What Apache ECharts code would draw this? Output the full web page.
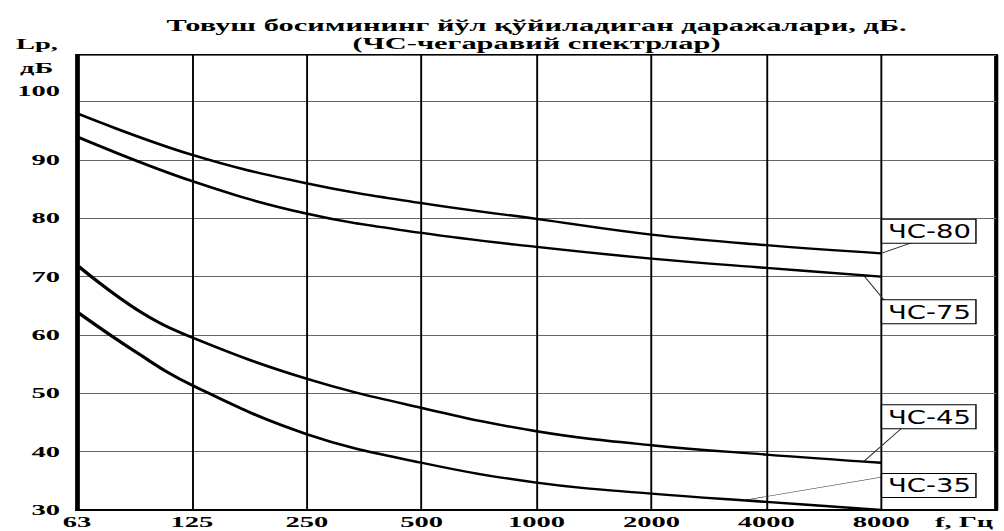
<!DOCTYPE html>
<html>
<head>
<meta charset="utf-8">
<script src="https://cdn.jsdelivr.net/npm/echarts@6/dist/echarts.min.js"></script>
<style>
  html, body { margin: 0; padding: 0; background: #fff; overflow: hidden; }
  #wrap { width: 1004px; height: 531px; overflow: hidden; }
  /* the chart is laid out narrow and widened, giving the broad lettering and heavy verticals */
  #chart { width: 528px; height: 531px; transform: scaleX(1.9015); transform-origin: 0 0; }
</style>
</head>
<body>
<div id="wrap"><div id="chart"></div></div>
<script>
// Octave band centre frequencies (Hz) shown on the x axis
const bandLabels = ['63', '125', '250', '500', '1000', '2000', '4000', '8000'];
const yTickValues = [30, 40, 50, 60, 70, 80, 90, 100];

// Limiting spectra ЧС-80 and ЧС-75: sound pressure level (dB) at each band
const freqHigh = [63, 125, 250, 500, 1000, 2000, 4000, 8000];
const cs80 = [97.9, 90.9, 86.0, 82.6, 79.9, 77.2, 75.4, 74.0];
const cs75 = [93.9, 86.4, 80.8, 77.5, 75.1, 73.1, 71.5, 70.0];

// Limiting spectra ЧС-45 and ЧС-35, with an extra reading between 63 and 125 Hz
const freqLow = [63, 90, 125, 250, 500, 1000, 2000, 4000, 8000];
const cs45 = [71.8, 64.3, 59.6, 52.5, 47.5, 43.5, 41.1, 39.5, 38.1];
const cs35 = [63.8, 56.9, 51.4, 43.0, 38.1, 34.7, 32.8, 31.4, 30.0];

// Curve tags and the frequency where each tag's leader touches its curve
const tagNames = ['ЧС-80', 'ЧС-75', 'ЧС-45', 'ЧС-35'];
const tagFreq = [8000, 7200, 7200, 3500];

const titleLines = ['Товуш босимининг йўл қўйиладиган даражалари, дБ.', '(ЧС-чегаравий спектрлар)'];

// octave position on the x axis: 63 Hz band = 0, 125 Hz = 1, ...
const octave = f => Math.log2(f / 62.5);
const pairs = (freqs, vals) => freqs.map((f, i) => [octave(f), vals[i]]);

const SERIF = '"Liberation Serif", "Times New Roman", serif';
const SANS = '"DejaVu Sans", Verdana, sans-serif';

const curves = [
  { name: 'ЧС-80', freqs: freqHigh, vals: cs80 },
  { name: 'ЧС-75', freqs: freqHigh, vals: cs75 },
  { name: 'ЧС-45', freqs: freqLow, vals: cs45 },
  { name: 'ЧС-35', freqs: freqLow, vals: cs35 }
];

const chart = echarts.init(document.getElementById('chart'), null, { renderer: 'svg' });

chart.setOption({
  animation: false,
  backgroundColor: '#fff',
  grid: {
    left: 40.5, right: 4.2, top: 55, bottom: 21,
    show: true, borderColor: '#000', borderWidth: 2, backgroundColor: 'transparent'
  },
  xAxis: {
    type: 'value', min: 0, max: 8, interval: 1,
    axisLine: { show: true, onZero: false, lineStyle: { color: '#000', width: 2 } },
    axisTick: { show: false },
    splitLine: { show: true, lineStyle: { color: '#000', width: 1 } },
    axisLabel: {
      margin: 5, color: '#000',
      fontFamily: SERIF, fontWeight: 'bold', fontSize: 15,
      formatter: v => (Number.isInteger(v) && bandLabels[v]) ? bandLabels[v] : ''
    }
  },
  yAxis: {
    type: 'value', min: 30, max: 108, interval: 10,
    axisLine: { show: true, lineStyle: { color: '#000', width: 2 } },
    axisTick: { show: false },
    splitLine: { show: true, lineStyle: { color: '#666', width: 1 } },
    axisLabel: {
      margin: 9, color: '#000',
      fontFamily: SERIF, fontWeight: 'bold', fontSize: 15,
      formatter: v => {
        if (!yTickValues.includes(v)) return '';
        return v === yTickValues[yTickValues.length - 1] ? '{top|' + v + '}' : String(v);
      },
      rich: {
        top: { fontFamily: SERIF, fontWeight: 'bold', fontSize: 15, color: '#000', padding: [0, 0, 22, 0] }
      }
    }
  },
  series: curves.map(c => ({
    name: c.name,
    type: 'line',
    data: pairs(c.freqs, c.vals),
    smooth: 0.4,
    showSymbol: false,
    silent: true,
    lineStyle: { color: '#000', width: 2.4 }
  }))
});

// value of a curve at frequency f, along the straight segment between its readings
function levelAt(c, f) {
  const x = octave(f);
  for (let i = 0; i < c.freqs.length - 1; i++) {
    const x0 = octave(c.freqs[i]), x1 = octave(c.freqs[i + 1]);
    if (x >= x0 && x <= x1) {
      const t = (x - x0) / (x1 - x0);
      return c.vals[i] + t * (c.vals[i + 1] - c.vals[i]);
    }
  }
  return c.vals[c.vals.length - 1];
}

// tag boxes sit just right of the 8000 Hz line; level is the box centre in dB,
// attach is where the leader meets the box (fractions of its width / height)
const tagLayout = [
  { level: 77.8, attach: [0.32, 1] },
  { level: 64.0, attach: [0.02, 0] },
  { level: 46.0, attach: [0.21, 1] },
  { level: 34.2, attach: [0, 0.13] }
];
const TAG_FONT_SIZE = 19, TAG_SCALE = 0.76, TAG_PAD = [2, 3, 1, 4], TAG_LINE = 20;

const measure = document.createElement('canvas').getContext('2d');
measure.font = TAG_FONT_SIZE + 'px ' + SANS;

const toPx = (x, y) => chart.convertToPixel({ gridIndex: 0 }, [x, y]);
const graphics = [];

// title, two centred lines over the plot
const gl = toPx(0, 30), gr = toPx(8, 30);
graphics.push({
  type: 'text', x: (gl[0] + gr[0]) / 2, y: 34,
  style: {
    text: titleLines.join('\n'), align: 'center', verticalAlign: 'middle',
    font: 'bold 16px ' + SERIF, lineHeight: 18, fill: '#000'
  }
});
// axis names
graphics.push({
  type: 'text', x: 30.5, y: 44,
  style: { text: 'Lp,', align: 'right', verticalAlign: 'middle', font: 'bold 15px ' + SERIF, fill: '#000' }
});
graphics.push({
  type: 'text', x: 28, y: 68,
  style: { text: 'дБ', align: 'right', verticalAlign: 'middle', font: 'bold 15px ' + SERIF, fill: '#000' }
});
graphics.push({
  type: 'text', x: 507, y: gl[1] + 12,
  style: { text: 'f, Гц', align: 'center', verticalAlign: 'middle', font: 'bold 15px ' + SERIF, fill: '#000' }
});

const x8000 = toPx(octave(8000), 30)[0];
tagNames.forEach((name, i) => {
  const c = curves[i];
  const lay = tagLayout[i];
  const textW = measure.measureText(name).width;
  const boxW = (textW + TAG_PAD[1] + TAG_PAD[3]) * TAG_SCALE;
  const boxH = TAG_LINE + TAG_PAD[0] + TAG_PAD[2];
  const bx = x8000 + 0.6;
  const cy = toPx(0, lay.level)[1];
  const by = cy - boxH / 2;
  const anchor = toPx(octave(tagFreq[i]), levelAt(c, tagFreq[i]));
  graphics.push({
    type: 'line', silent: true,
    shape: { x1: anchor[0], y1: anchor[1], x2: bx + lay.attach[0] * boxW, y2: by + lay.attach[1] * boxH },
    style: { stroke: '#333', lineWidth: 0.7 }
  });
  graphics.push({
    type: 'text', x: bx, y: by, scaleX: TAG_SCALE, z: 10,
    style: {
      text: name, align: 'left', verticalAlign: 'top',
      font: TAG_FONT_SIZE + 'px ' + SANS, lineHeight: TAG_LINE, fill: '#000',
      backgroundColor: '#fff', borderColor: '#000', borderWidth: 1,
      padding: TAG_PAD
    }
  });
});

chart.setOption({ graphic: graphics });
</script>
</body>
</html>
